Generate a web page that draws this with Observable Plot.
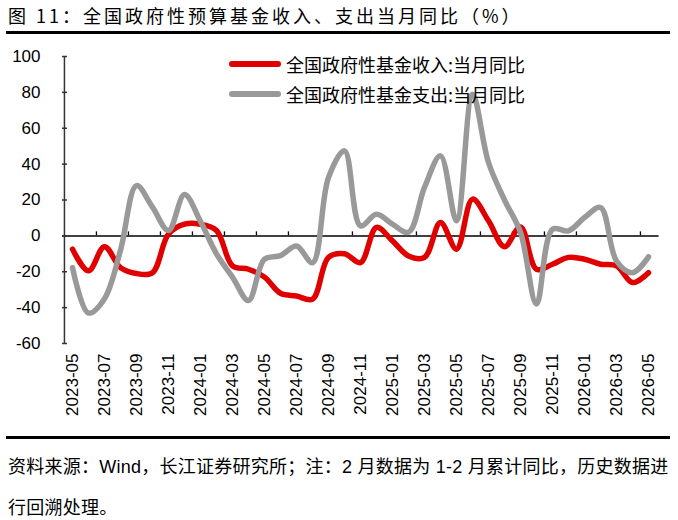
<!DOCTYPE html>
<html><head><meta charset="utf-8">
<script src="https://cdn.jsdelivr.net/npm/d3@7"></script>
<script src="https://cdn.jsdelivr.net/npm/@observablehq/plot@0.6"></script>
<style>
body{margin:0;background:#fff;font-family:"Liberation Sans","Noto Sans CJK SC",sans-serif;color:#000;}
#wrap{position:relative;width:678px;height:520px;overflow:hidden;background:#fff}
#title{position:absolute;left:6px;top:0;width:664px;height:31px;border-bottom:3px solid #000;font-family:"Noto Sans CJK SC",sans-serif;font-size:18px;line-height:31px;letter-spacing:3px;white-space:nowrap;box-sizing:content-box}
#title span{padding-left:2px}
#chart{position:absolute;left:0;top:34px}
.lg{position:absolute;left:229px;width:52px;height:6px;border-radius:3px}
.lt{position:absolute;left:286px;font-family:"Noto Sans CJK SC",sans-serif;font-size:18px;line-height:24px;white-space:nowrap}
#rule{position:absolute;left:6px;top:436px;width:664px;border-top:3px solid #000}
#foot{position:absolute;left:8px;top:447px;font-size:18px;line-height:41px;letter-spacing:0.25px;white-space:nowrap}
</style></head>
<body><div id="wrap">
<div id="title"><span>图 11：全国政府性预算基金收入、支出当月同比（%）</span></div>
<div id="chart"></div>
<div class="lg" style="top:61px;background:#e00000"></div>
<div class="lt" id="lt0" style="top:52px"></div>
<div class="lg" style="top:91px;background:#999999"></div>
<div class="lt" id="lt1" style="top:82px"></div>
<div id="rule"></div>
<div id="foot">资料来源：Wind，长江证券研究所；注：2 月数据为 1-2 月累计同比，历史数据进<br>行回溯处理。</div>
</div>
<script>
const months = ["2023-05","2023-06","2023-07","2023-08","2023-09","2023-10","2023-11","2023-12",
"2024-01","2024-02","2024-03","2024-04","2024-05","2024-06","2024-07","2024-08","2024-09","2024-10","2024-11","2024-12",
"2025-01","2025-02","2025-03","2025-04","2025-05","2025-06","2025-07","2025-08","2025-09","2025-10","2025-11","2025-12",
"2026-01","2026-02","2026-03","2026-04","2026-05"];
const revenue = [-7.4,-19.5,-6,-17.7,-21,-20.5,1,6.5,6.5,3,-16.7,-18.6,-23,-32,-33.5,-35.3,-12,-10,-14.9,4.7,
-2.8,-11.2,-12,7.4,-7.4,20.5,8.4,-6,5,-18.6,-15.8,-12,-13,-15.8,-16.7,-26,-20.5];
const spending = [-17.7,-43,-35,-8,28,16,3,23,8,-10,-23,-36,-13,-11,-5.6,-15,32.5,47.4,5.6,12,
6.5,2,27,44.6,8.4,79,40.9,20,2,-38,3.7,2.8,10.2,15.8,-14,-20.5,-11.7];
const seriesNames = ["全国政府性基金收入:当月同比","全国政府性基金支出:当月同比"];
const colors = ["#e00000","#999999"];
const yTicks = [100,80,60,40,20,0,-20,-40,-60];
const xTickLabels = months.filter((d,i)=>i%2===0);
const xTickMarks = months.filter((d,i)=>i%2===0 && i>0);

document.getElementById("lt0").textContent = seriesNames[0];
document.getElementById("lt1").textContent = seriesNames[1];

const W=678,H=400,ML=62,MR=19.4,MT=22,MB=91;
const step=(W-ML-MR)/months.length;
const revData = months.map((m,i)=>({m, v:revenue[i]}));
const spData = months.map((m,i)=>({m, v:spending[i]}));

const chart = Plot.plot({
  width:W, height:H, marginLeft:ML, marginRight:MR, marginTop:MT, marginBottom:MB,
  style:{fontFamily:'"Liberation Sans","Noto Sans CJK SC",sans-serif', fontSize:"17px", color:"#000", background:"transparent", overflow:"visible"},
  x:{type:"point", domain:months, padding:0.5, align:0.5},
  y:{domain:[-60,100]},
  marks:[
    Plot.ruleY([0], {stroke:"#000", strokeWidth:1.5}),
    Plot.ruleX(xTickMarks, {x:d=>d, y1:0, y2:0, dx:-step/2, insetTop:-4, stroke:"#000", strokeWidth:1.3}),
    Plot.ruleX([months[0]], {x:d=>d, y1:-60, y2:100, dx:-step/2, stroke:"#333", strokeWidth:1.5}),
    Plot.ruleY(yTicks, {y:d=>d, insetRight:(W-ML-MR)-5, stroke:"#333", strokeWidth:1.5}),
    Plot.line(revData, {x:"m", y:"v", stroke:colors[0], strokeWidth:5.5, curve:"catmull-rom"}),
    Plot.line(spData, {x:"m", y:"v", stroke:colors[1], strokeWidth:5.5, curve:"catmull-rom"}),
    Plot.axisY({ticks:yTicks, tickSize:0, tickPadding:22, tickFormat:d=>String(d), fontSize:17, label:null}),
    Plot.axisX({ticks:xTickLabels, tickSize:0, tickRotate:-90, tickPadding:10, fontSize:17, label:null})
  ]
});
document.getElementById("chart").appendChild(chart);
</script>
</body></html>
